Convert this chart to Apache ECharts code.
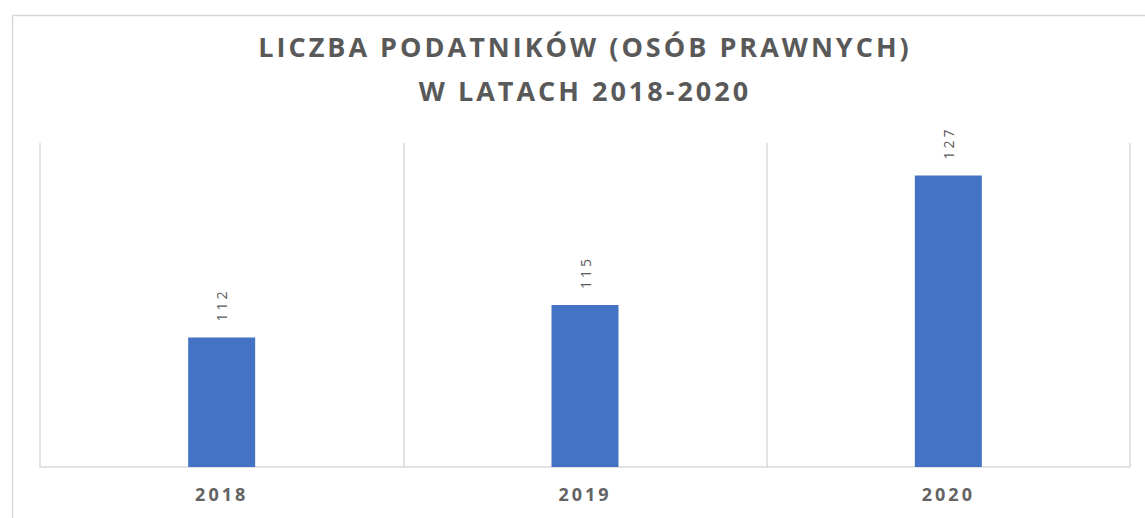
<!DOCTYPE html>
<html>
<head>
<meta charset="utf-8">
<script src="https://cdn.jsdelivr.net/npm/echarts@6/dist/echarts.min.js"></script>
<style>
  html, body { margin: 0; padding: 0; background: #ffffff; }
  #chart { width: 1145px; height: 518px; letter-spacing: 3px; }
</style>
</head>
<body>
<div id="chart"></div>
<script>
const titleText = 'LICZBA PODATNIKÓW (OSÓB PRAWNYCH)\nW LATACH 2018-2020';
const categories = ['2018', '2019', '2020'];
const values = [112, 115, 127];
const yMin = 100;
const yMax = 130;

const chart = echarts.init(document.getElementById('chart'), null, { renderer: 'svg' });
chart.setOption({
  backgroundColor: '#ffffff',
  animation: false,
  graphic: [{
    type: 'rect',
    left: 10, top: 13,
    shape: { width: 1150, height: 520 },
    style: { fill: 'none', stroke: '#d9d9d9', lineWidth: 1.5 },
    silent: true
  }],
  title: {
    text: titleText,
    left: 580,
    top: 19,
    textAlign: 'center',
    textStyle: {
      fontFamily: 'Open Sans',
      fontWeight: 'bold',
      fontSize: 27,
      lineHeight: 44,
      color: '#595959'
    }
  },
  grid: { left: 40, right: 15, top: 143, bottom: 51 },
  xAxis: {
    type: 'category',
    data: categories,
    boundaryGap: true,
    axisLine: { show: true, lineStyle: { color: '#d9d9d9', width: 1.5 } },
    axisTick: { show: false },
    splitLine: { show: true, lineStyle: { color: '#d9d9d9', width: 1.5 } },
    axisLabel: {
      fontFamily: 'Open Sans',
      fontWeight: 'bold',
      fontSize: 18,
      color: '#636363',
      margin: 18
    }
  },
  yAxis: {
    type: 'value',
    min: yMin,
    max: yMax,
    show: false,
    splitLine: { show: false }
  },
  series: [{
    type: 'bar',
    data: values,
    barWidth: 67,
    itemStyle: { color: '#4472C4' },
    label: {
      show: true,
      position: 'top',
      rotate: 90,
      align: 'left',
      verticalAlign: 'middle',
      distance: 16,
      fontFamily: 'Open Sans',
      fontSize: 14,
      color: '#595959'
    }
  }]
});
</script>
</body>
</html>
